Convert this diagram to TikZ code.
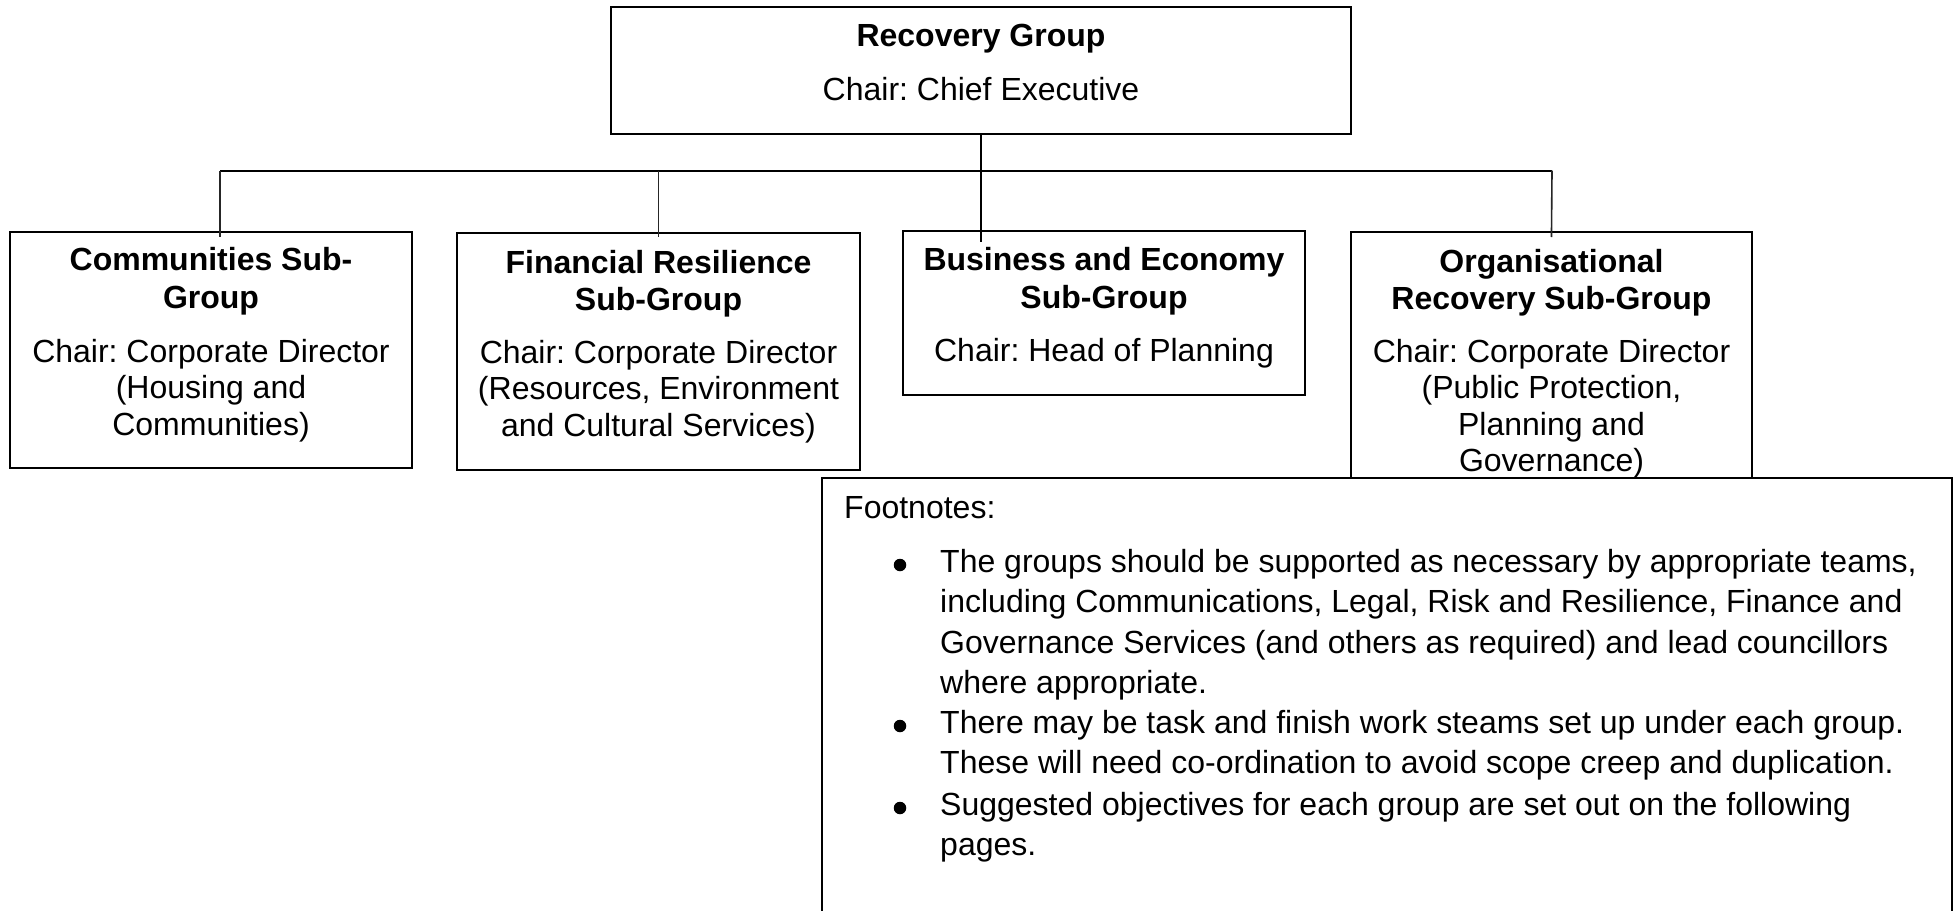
\documentclass[tikz,border=0pt]{standalone}
\usepackage{fontspec}
\setmainfont{Liberation Sans}
\frenchspacing
\begin{document}
\begin{tikzpicture}[x=1pt,y=-1pt,
  box/.style={draw=black,line width=2pt,fill=white,rectangle,inner sep=0pt},
  link/.style={draw=black!85,line width=1.6pt},
  head/.style={anchor=base,inner sep=0pt,font={\fontsize{32}{37.5}\selectfont\bfseries}},
  chair/.style={anchor=base,inner sep=0pt,font={\fontsize{32}{36.5}\selectfont}},
  note/.style={anchor=base west,inner sep=0pt,font={\fontsize{32}{40.3}\selectfont}},
  dot/.style={circle,fill=black,inner sep=0pt,minimum size=12.5pt}]
\useasboundingbox (0,0) rectangle (1953,910);

% top-level group
\node[box,minimum width=740pt,minimum height=127pt] (rec) at (981,70.5) {};
\node[head] (recT) at (981,46.5) {Recovery Group};
\node[chair] (recC) at (981,100) {Chair: Chief Executive};

% sub-groups
\node[box,minimum width=402pt,minimum height=236pt] (com) at (211,350) {};
\node[box,minimum width=403pt,minimum height=237pt] (fin) at (658.5,351.5) {};
\node[box,minimum width=402pt,minimum height=164pt] (bus) at (1104,313) {};
\node[box,minimum width=401pt,minimum height=258pt] (org) at (1551.5,361) {};

\node[head] (comT) at (211,270.5) {\begin{tabular}[t]{@{}c@{}}Communities Sub-\\Group\end{tabular}};
\node[chair] (comC) at (211,362) {\begin{tabular}[t]{@{}c@{}}Chair: Corporate Director\\(Housing and\\Communities)\end{tabular}};

\node[head] (finT) at (658.5,273) {\begin{tabular}[t]{@{}c@{}}Financial Resilience\\Sub-Group\end{tabular}};
\node[chair] (finC) at (658.5,363) {\begin{tabular}[t]{@{}c@{}}Chair: Corporate Director\\(Resources, Environment\\and Cultural Services)\end{tabular}};

\node[head] (busT) at (1104,270.5) {\begin{tabular}[t]{@{}c@{}}Business and Economy\\Sub-Group\end{tabular}};
\node[chair] (busC) at (1104,361) {Chair: Head of Planning};

\node[head] (orgT) at (1551.5,272) {\begin{tabular}[t]{@{}c@{}}Organisational\\Recovery Sub-Group\end{tabular}};
\node[chair] (orgC) at (1551.5,362) {\begin{tabular}[t]{@{}c@{}}Chair: Corporate Director\\(Public Protection,\\Planning and\\Governance)\end{tabular}};

% connectors
\coordinate (hl) at (220,170.5);
\coordinate (hr) at (1552,170.5);
\draw[link,draw=black,line width=2pt] (hl) -- (hr);
\draw[link,draw=black,shorten >=-12pt] (rec.south) -- (rec.south |- bus.north);
\draw[link,shorten >=-6pt] (hl) -- (hl |- com.north);
\draw[link,shorten >=-5pt] (fin.north |- hl) -- (fin.north);
\draw[link,shorten >=-6pt] (hr) -- (org.north);

% footnotes panel
\node[box,minimum width=1130pt,minimum height=460pt] (foot) at (1387,708) {};
\node[note] (footH) at (844,518) {Footnotes:};
\node[dot] (b1) at (900,565) {};
\node[dot] (b2) at (900,726) {};
\node[dot] (b3) at (900,808) {};
\node[note] (n1) at (940,572.5) {\begin{tabular}[t]{@{}l@{}}The groups should be supported as necessary by appropriate teams,\\including Communications, Legal, Risk and Resilience, Finance and\\Governance Services (and others as required) and lead councillors\\where appropriate.\end{tabular}};
\node[note] (n2) at (940,733) {\begin{tabular}[t]{@{}l@{}}There may be task and finish work steams set up under each group.\\These will need co-ordination to avoid scope creep and duplication.\end{tabular}};
\node[note] (n3) at (940,815) {\begin{tabular}[t]{@{}l@{}}Suggested objectives for each group are set out on the following\\pages.\end{tabular}};
\end{tikzpicture}
\end{document}
